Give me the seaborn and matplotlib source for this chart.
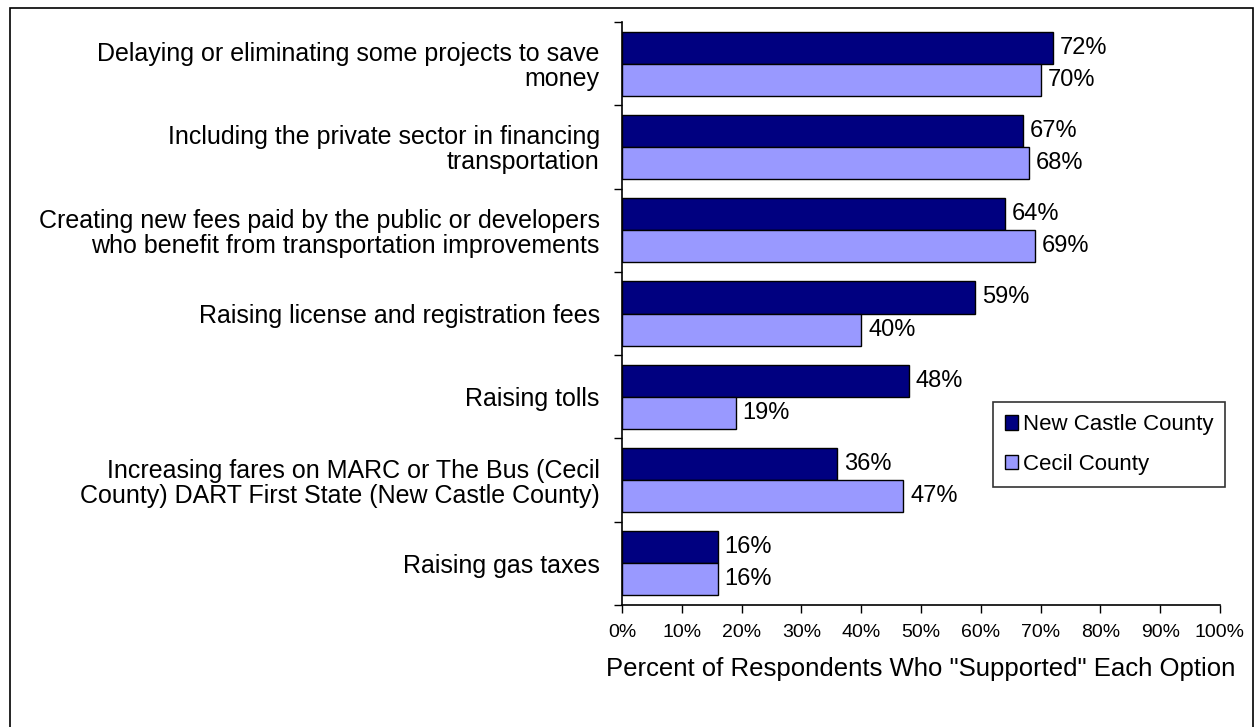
"""
Support for transportation funding options, New Castle vs Cecil County
"""

import numpy as np
import pandas as pd
import matplotlib
matplotlib.use("Agg")
import matplotlib.pyplot as plt
from matplotlib.patches import Rectangle
from matplotlib.ticker import FuncFormatter, MultipleLocator
import seaborn as sns

options = [
    "Delaying or eliminating some projects to save\nmoney",
    "Including the private sector in financing\ntransportation",
    "Creating new fees paid by the public or developers\nwho benefit from transportation improvements",
    "Raising license and registration fees",
    "Raising tolls",
    "Increasing fares on MARC or The Bus (Cecil\nCounty) DART First State (New Castle County)",
    "Raising gas taxes",
]
new_castle = [72, 67, 64, 59, 48, 36, 16]
cecil = [70, 68, 69, 40, 19, 47, 16]
counties = ["New Castle County", "Cecil County"]
colors = {"New Castle County": "#000080", "Cecil County": "#9999FF"}

df = pd.DataFrame({
    "option": options * 2,
    "county": [counties[0]] * len(options) + [counties[1]] * len(options),
    "pct": new_castle + cecil,
})

sns.set_style("white")
plt.rcParams["font.family"] = ["Liberation Sans", "DejaVu Sans"]
plt.rcParams["text.color"] = "black"

fig = plt.figure(figsize=(12.56, 7.27), dpi=100)
ax = fig.add_axes([622 / 1256, 122 / 727, 598 / 1256, 583 / 727])

sns.barplot(data=df, y="option", x="pct", hue="county", order=options,
            hue_order=counties, palette=colors, orient="h", width=0.77,
            edgecolor="black", linewidth=1, saturation=1, ax=ax)

# value labels at bar ends
for container in ax.containers:
    ax.bar_label(container, labels=[f"{v:.0f}%" for v in container.datavalues],
                 padding=5, fontsize=17, color="black")

ax.set_xlim(0, 100)
ax.set_ylim(len(options) - 0.5, -0.5)
ax.xaxis.set_major_locator(MultipleLocator(10))
ax.xaxis.set_major_formatter(FuncFormatter(lambda v, p: f"{v:.0f}%"))
ax.tick_params(axis="x", direction="out", length=6, width=1, color="black",
               labelsize=14, labelcolor="black", pad=8, bottom=True)

# y ticks sit between groups, labels at group centres
ax.set_yticks(np.arange(len(options)))
ax.set_yticklabels(options, fontsize=18, multialignment="right", linespacing=1.05)
ax.tick_params(axis="y", length=0, pad=16, labelcolor="black")
ax.set_yticks(np.arange(len(options) + 1) - 0.5, minor=True)
ax.tick_params(axis="y", which="minor", direction="out", length=6, width=1,
               color="black", left=True)

ax.set_xlabel('Percent of Respondents Who "Supported" Each Option',
              fontsize=18.5, labelpad=11, color="black")
ax.set_ylabel("")

for side in ["top", "right"]:
    ax.spines[side].set_visible(False)
for side in ["left", "bottom"]:
    ax.spines[side].set_color("black")
    ax.spines[side].set_linewidth(1.2)

leg = ax.legend(loc="upper left", bbox_to_anchor=(0.62, 0.348), fontsize=16,
                frameon=True, fancybox=False, edgecolor="black",
                handlelength=0.6, handleheight=0.6, handletextpad=0.2,
                labelspacing=0.85, borderpad=0.55, borderaxespad=0)
leg.get_frame().set_linewidth(1.2)

# outer chart frame
fig.patches.append(Rectangle((10 / 1256, -0.01), 1243 / 1256, 1 - 8 / 727 + 0.01,
                             transform=fig.transFigure, fill=False,
                             edgecolor="black", linewidth=1.2))

fig.savefig("out.png", dpi=100)
